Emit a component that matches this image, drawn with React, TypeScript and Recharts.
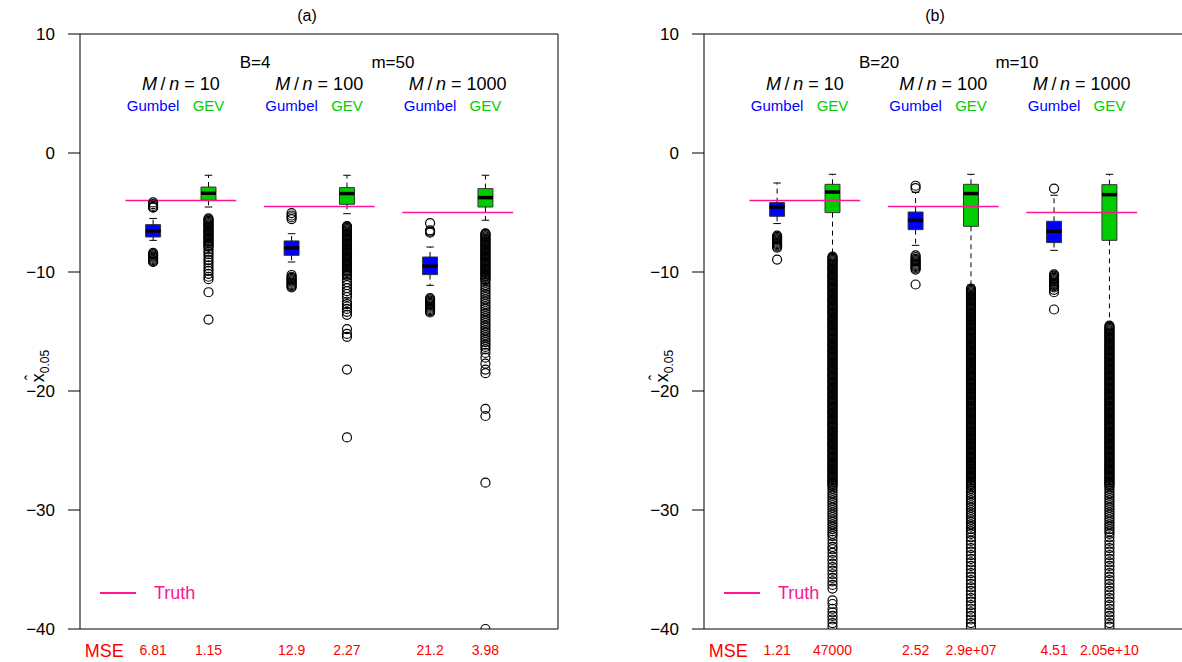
import React from "react";
import {
  ComposedChart,
  XAxis,
  YAxis,
  Scatter,
  ReferenceArea,
  ReferenceLine,
} from "recharts";

const FONT = "'Liberation Sans', Arial, Helvetica, sans-serif";

// box positions on the x scale, pairs of Gumbel / GEV for M/n = 10, 100, 1000
const POSITIONS = [1, 2, 3.5, 4.5, 6, 7];
const METHODS = ["Gumbel", "GEV", "Gumbel", "GEV", "Gumbel", "GEV"];
const GROUP_CENTERS = [1.5, 4, 6.5];
const RATIOS = ["10", "100", "1000"];
const TRUTH = [-4.0, -4.5, -5.0];
const Y_TICKS = [10, 0, -10, -20, -30, -40];
const MSE_POS = 0.12;

// ── panel (a): B=4, m=50 ──────────────────────────────────────────────
const A_LOW = [-7.34, -4.54, -9.16, -5.1, -11.12, -5.65];
const A_Q1 = [-7.06, -3.97, -8.6, -4.31, -10.22, -4.54];
const A_MED = [-6.55, -3.38, -7.98, -3.41, -9.5, -3.75];
const A_Q3 = [-6.02, -2.86, -7.39, -2.91, -8.74, -2.99];
const A_HIGH = [-5.5, -1.87, -6.78, -1.87, -7.9, -1.87];
const A_MSE = ["6.81", "1.15", "12.9", "2.27", "21.2", "3.98"];

const A_OUT_GUM10 = [-4.15, -4.3, -4.45, -4.55, -4.6, -8.4, -8.5, -8.6, -8.7, -8.8, -8.9, -9.0, -9.1, -9.15];
const A_OUT_GEV10 = [
  -5.5, -5.6, -5.7, -5.8, -5.9, -6.0, -6.1, -6.2, -6.3, -6.4,
  -6.5, -6.6, -6.7, -6.8, -6.9, -7.0, -7.1, -7.2, -7.3, -7.4,
  -7.5, -7.6, -7.7, -7.8, -7.9, -8.1, -8.3, -8.5, -8.75, -9.0,
  -9.2, -9.45, -9.7, -9.9, -10.15, -10.4, -10.6, -11.7, -14.0,
];
const A_OUT_GUM100 = [-5.05, -5.25, -5.4, -5.55, -10.25, -10.4, -10.5, -10.6, -10.7, -10.8, -10.9, -11.0, -11.1, -11.2, -11.3];
const A_OUT_GEV100 = [
  -6.15, -6.2, -6.3, -6.4, -6.5, -6.6, -6.7, -6.8, -6.9, -7.0,
  -7.1, -7.2, -7.3, -7.4, -7.5, -7.6, -7.7, -7.8, -7.9, -8.0,
  -8.1, -8.2, -8.3, -8.4, -8.5, -8.6, -8.7, -8.8, -8.9, -9.0,
  -9.1, -9.2, -9.3, -9.4, -9.5, -9.6, -9.7, -9.8, -9.9, -10.0,
  -10.1, -10.2, -10.3, -10.6, -10.85, -11.1, -11.35, -11.6, -11.85, -12.1,
  -12.5, -12.7, -12.9, -13.1, -13.35, -13.6, -14.8, -15.2, -15.45, -18.2, -23.9,
];
const A_OUT_GUM1000 = [-5.9, -6.5, -6.6, -6.7, -12.2, -12.3, -12.4, -12.5, -12.6, -12.7, -12.8, -12.9, -13.0, -13.1, -13.2, -13.3, -13.4];
const A_OUT_GEV1000 = [
  -6.75, -6.8, -6.9, -7.0, -7.1, -7.2, -7.3, -7.4, -7.5, -7.6,
  -7.7, -7.8, -7.9, -8.0, -8.1, -8.2, -8.3, -8.4, -8.5, -8.6,
  -8.7, -8.8, -8.9, -9.0, -9.1, -9.2, -9.3, -9.4, -9.5, -9.6,
  -9.7, -9.8, -9.9, -10.0, -10.1, -10.2, -10.3, -10.4, -10.5, -10.6,
  -10.7, -10.9, -11.1, -11.3, -11.5, -11.7, -11.9, -12.1, -12.3, -12.5,
  -12.7, -12.9, -13.1, -13.3, -13.5, -13.7, -13.9, -14.1, -14.3, -14.5,
  -14.7, -14.9, -15.1, -15.3, -15.5, -15.7, -15.9, -16.1, -16.3, -16.5,
  -16.8, -17.2, -17.7, -18.2, -18.5, -21.5, -22.1, -27.7, -40.0,
];

// ── panel (b): B=20, m=10 ─────────────────────────────────────────────
const B_LOW = [-5.93, -8.5, -7.76, -11.1, -8.18, -14.3];
const B_Q1 = [-5.32, -5.01, -6.44, -6.16, -7.53, -7.34];
const B_MED = [-4.54, -3.28, -5.66, -3.41, -6.58, -3.5];
const B_Q3 = [-4.17, -2.63, -4.96, -2.63, -5.74, -2.66];
const B_HIGH = [-2.52, -1.79, -3.3, -1.79, -3.55, -1.79];
const B_MSE = ["1.21", "47000", "2.52", "2.9e+07", "4.51", "2.05e+10"];

const B_OUT_GUM10 = [-6.95, -7.05, -7.15, -7.25, -7.35, -7.45, -7.55, -7.65, -7.75, -7.85, -7.95, -8.96];
const B_OUT_GEV10 = [
  -8.7, -8.8, -8.9, -9.0, -9.1, -9.2, -9.3, -9.4, -9.5, -9.6,
  -9.7, -9.8, -9.9, -10.0, -10.1, -10.2, -10.3, -10.4, -10.5, -10.6,
  -10.7, -10.8, -10.9, -11.0, -11.1, -11.2, -11.3, -11.4, -11.5, -11.6,
  -11.7, -11.8, -11.9, -12.0, -12.1, -12.2, -12.3, -12.4, -12.5, -12.6,
  -12.7, -12.8, -12.9, -13.0, -13.1, -13.2, -13.3, -13.4, -13.5, -13.6,
  -13.7, -13.8, -13.9, -14.0, -14.1, -14.2, -14.3, -14.4, -14.5, -14.6,
  -14.7, -14.8, -14.9, -15.0, -15.1, -15.2, -15.3, -15.4, -15.5, -15.6,
  -15.7, -15.8, -15.9, -16.0, -16.1, -16.2, -16.3, -16.4, -16.5, -16.6,
  -16.7, -16.8, -16.9, -17.0, -17.1, -17.2, -17.3, -17.4, -17.5, -17.6,
  -17.7, -17.8, -17.9, -18.0, -18.1, -18.2, -18.3, -18.4, -18.5, -18.6,
  -18.7, -18.8, -18.9, -19.0, -19.1, -19.2, -19.3, -19.4, -19.5, -19.6,
  -19.7, -19.8, -19.9, -20.0, -20.1, -20.2, -20.3, -20.4, -20.5, -20.6,
  -20.7, -20.8, -20.9, -21.0, -21.1, -21.2, -21.3, -21.4, -21.5, -21.6,
  -21.7, -21.8, -21.9, -22.0, -22.1, -22.2, -22.3, -22.4, -22.5, -22.6,
  -22.7, -22.8, -22.9, -23.0, -23.1, -23.2, -23.3, -23.4, -23.5, -23.6,
  -23.7, -23.8, -23.9, -24.0, -24.1, -24.2, -24.3, -24.4, -24.5, -24.6,
  -24.7, -24.8, -24.9, -25.0, -25.1, -25.2, -25.3, -25.4, -25.5, -25.6,
  -25.7, -25.8, -25.9, -26.0, -26.1, -26.2, -26.3, -26.4, -26.5, -26.6,
  -26.7, -26.8, -26.9, -27.0, -27.1, -27.2, -27.3, -27.4, -27.5, -27.6,
  -27.7, -27.8, -27.9, -28.0, -28.2, -28.4, -28.6, -28.8, -29.0, -29.2,
  -29.4, -29.6, -29.8, -30.0, -30.2, -30.4, -30.6, -30.8, -31.0, -31.2,
  -31.4, -31.6, -31.8, -32.0, -32.2, -32.5, -32.8, -33.1, -33.3, -33.6,
  -33.9, -34.2, -34.5, -34.8, -35.1, -35.4, -35.7, -36.0, -36.3, -36.6,
  -37.6, -37.9, -38.3, -38.6, -38.9, -39.2, -39.5, -39.8,
];
const B_OUT_GUM100 = [-2.75, -2.95, -8.6, -8.75, -8.9, -9.0, -9.1, -9.2, -9.3, -9.4, -9.5, -9.6, -9.7, -9.8, -11.05];
const B_OUT_GEV100 = [
  -11.4, -11.5, -11.6, -11.7, -11.8, -11.9, -12.0, -12.1, -12.2, -12.3,
  -12.4, -12.5, -12.6, -12.7, -12.8, -12.9, -13.0, -13.1, -13.2, -13.3,
  -13.4, -13.5, -13.6, -13.7, -13.8, -13.9, -14.0, -14.1, -14.2, -14.3,
  -14.4, -14.5, -14.6, -14.7, -14.8, -14.9, -15.0, -15.1, -15.2, -15.3,
  -15.4, -15.5, -15.6, -15.7, -15.8, -15.9, -16.0, -16.1, -16.2, -16.3,
  -16.4, -16.5, -16.6, -16.7, -16.8, -16.9, -17.0, -17.1, -17.2, -17.3,
  -17.4, -17.5, -17.6, -17.7, -17.8, -17.9, -18.0, -18.1, -18.2, -18.3,
  -18.4, -18.5, -18.6, -18.7, -18.8, -18.9, -19.0, -19.1, -19.2, -19.3,
  -19.4, -19.5, -19.6, -19.7, -19.8, -19.9, -20.0, -20.1, -20.2, -20.3,
  -20.4, -20.5, -20.6, -20.7, -20.8, -20.9, -21.0, -21.1, -21.2, -21.3,
  -21.4, -21.5, -21.6, -21.7, -21.8, -21.9, -22.0, -22.1, -22.2, -22.3,
  -22.4, -22.5, -22.6, -22.7, -22.8, -22.9, -23.0, -23.1, -23.2, -23.3,
  -23.4, -23.5, -23.6, -23.7, -23.8, -23.9, -24.0, -24.1, -24.2, -24.3,
  -24.4, -24.5, -24.6, -24.7, -24.8, -24.9, -25.0, -25.1, -25.2, -25.3,
  -25.4, -25.5, -25.6, -25.7, -25.8, -25.9, -26.0, -26.1, -26.2, -26.3,
  -26.4, -26.5, -26.6, -26.7, -26.8, -26.9, -27.0, -27.1, -27.2, -27.3,
  -27.4, -27.5, -27.6, -27.7, -27.8, -27.9, -28.0, -28.2, -28.4, -28.6,
  -28.8, -29.0, -29.2, -29.4, -29.6, -29.8, -30.0, -30.2, -30.4, -30.6,
  -30.8, -31.0, -31.2, -31.4, -31.6, -31.8, -32.0, -32.3, -32.6, -32.9,
  -33.2, -33.5, -33.8, -34.1, -34.4, -34.7, -35.0, -35.3, -35.6, -35.9,
  -36.2, -36.5, -36.8, -37.1, -37.4, -37.7, -38.0, -38.3, -38.6, -38.9,
  -39.2, -39.5, -39.8,
];
const B_OUT_GUM1000 = [-2.99, -10.2, -10.3, -10.4, -10.5, -10.6, -10.7, -10.8, -10.9, -11.0, -11.1, -11.2, -11.3, -11.5, -11.7, -13.15];
const B_OUT_GEV1000 = [
  -14.5, -14.6, -14.7, -14.8, -14.9, -15.0, -15.1, -15.2, -15.3, -15.4,
  -15.5, -15.6, -15.7, -15.8, -15.9, -16.0, -16.1, -16.2, -16.3, -16.4,
  -16.5, -16.6, -16.7, -16.8, -16.9, -17.0, -17.1, -17.2, -17.3, -17.4,
  -17.5, -17.6, -17.7, -17.8, -17.9, -18.0, -18.1, -18.2, -18.3, -18.4,
  -18.5, -18.6, -18.7, -18.8, -18.9, -19.0, -19.1, -19.2, -19.3, -19.4,
  -19.5, -19.6, -19.7, -19.8, -19.9, -20.0, -20.1, -20.2, -20.3, -20.4,
  -20.5, -20.6, -20.7, -20.8, -20.9, -21.0, -21.1, -21.2, -21.3, -21.4,
  -21.5, -21.6, -21.7, -21.8, -21.9, -22.0, -22.1, -22.2, -22.3, -22.4,
  -22.5, -22.6, -22.7, -22.8, -22.9, -23.0, -23.1, -23.2, -23.3, -23.4,
  -23.5, -23.6, -23.7, -23.8, -23.9, -24.0, -24.1, -24.2, -24.3, -24.4,
  -24.5, -24.6, -24.7, -24.8, -24.9, -25.0, -25.1, -25.2, -25.3, -25.4,
  -25.5, -25.6, -25.7, -25.8, -25.9, -26.0, -26.1, -26.2, -26.3, -26.4,
  -26.5, -26.6, -26.7, -26.8, -26.9, -27.0, -27.1, -27.2, -27.3, -27.4,
  -27.5, -27.6, -27.7, -27.8, -27.9, -28.0, -28.2, -28.4, -28.6, -28.8,
  -29.0, -29.2, -29.4, -29.6, -29.8, -30.0, -30.2, -30.4, -30.6, -30.8,
  -31.0, -31.2, -31.4, -31.6, -31.8, -32.0, -32.3, -32.6, -32.9, -33.2,
  -33.5, -33.8, -34.1, -34.4, -34.7, -35.0, -35.3, -35.6, -35.9, -36.2,
  -36.5, -36.8, -37.1, -37.4, -37.7, -38.0, -38.3, -38.6, -38.9, -39.2,
  -39.5, -39.8,
];

const A_OUTLIERS = [A_OUT_GUM10, A_OUT_GEV10, A_OUT_GUM100, A_OUT_GEV100, A_OUT_GUM1000, A_OUT_GEV1000];
const B_OUTLIERS = [B_OUT_GUM10, B_OUT_GEV10, B_OUT_GUM100, B_OUT_GEV100, B_OUT_GUM1000, B_OUT_GEV1000];

// layout
const X_MIN = -0.32;
const X_MAX = 8.31;
const PANEL_W = 591;
const H = 662;
const TOP = 34;
const PLOT_W = 478;
const BOX_HALF = 0.135;
const CAP_HALF = 0.068;

const BLUE = "#0000FF";
const GREEN = "#00CD00";
const PINK = "#FF1493";
const RED = "#FF0000";

const fmtY = (v: number) => (v < 0 ? `\u2212${Math.abs(v)}` : `${v}`);

interface PanelProps {
  title: string;
  bLabel: string;
  mLabel: string;
  low: number[];
  q1: number[];
  med: number[];
  q3: number[];
  high: number[];
  mse: string[];
  outliers: number[][];
  yAxisWidth: number;
  rightMargin: number;
  rightFrame: boolean;
  titleX: number;
}

const Circle = (p: any) => <circle cx={p.cx} cy={p.cy} r={4.5} fill="none" stroke="#000" strokeWidth={1.2} />;

const Panel: React.FC<PanelProps> = (props) => {
  const { low, q1, med, q3, high, mse, outliers, yAxisWidth, rightMargin } = props;
  const px = (x: number) => yAxisWidth + ((x - X_MIN) / (X_MAX - X_MIN)) * PLOT_W;

  const renderTick = (p: any) => {
    const v = p.payload.value;
    if (Math.abs(v - MSE_POS) < 1e-6) {
      return (
        <text x={p.x} y={p.y + 20} textAnchor="middle" fill={RED} fontSize={18} fontFamily={FONT}>MSE</text>
      );
    }
    const i = POSITIONS.indexOf(v);
    return (
      <text x={p.x} y={p.y + 18} textAnchor="middle" fill={RED} fontSize={14} fontFamily={FONT}>{mse[i]}</text>
    );
  };

  const txt = (x: number, y: number, size: number, color = "#000"): React.CSSProperties => ({
    position: "absolute", left: x, top: y, transform: "translate(-50%, -50%)", whiteSpace: "nowrap",
    fontSize: size, color, fontFamily: FONT, lineHeight: 1,
  });

  return (
    <div style={{ position: "relative", width: PANEL_W, height: H }}>
      <ComposedChart width={PANEL_W} height={H} margin={{ top: TOP, right: rightMargin, bottom: 0, left: 0 }}>
        <XAxis
          type="number"
          dataKey="x"
          domain={[X_MIN, X_MAX]}
          ticks={[MSE_POS, ...POSITIONS]}
          interval={0}
          tick={renderTick}
          tickLine={false}
          axisLine={{ stroke: "#000" }}
          height={33}
          allowDataOverflow
        />
        <YAxis
          type="number"
          dataKey="y"
          domain={[-40, 10]}
          ticks={Y_TICKS}
          interval={0}
          width={yAxisWidth}
          tickSize={12}
          tickMargin={13}
          tickFormatter={fmtY}
          tick={{ fill: "#000", fontSize: 17, fontFamily: FONT }}
          axisLine={{ stroke: "#000" }}
          tickLine={{ stroke: "#000" }}
          allowDataOverflow
        />
        <ReferenceLine y={10} stroke="#000" ifOverflow="visible" />
        {props.rightFrame && <ReferenceLine x={X_MAX} stroke="#000" ifOverflow="visible" />}

        {POSITIONS.map((x, i) => (
          <ReferenceLine key={`wu${i}`} segment={[{ x, y: q3[i] }, { x, y: high[i] }]} stroke="#000" strokeDasharray="5 4" ifOverflow="visible" />
        ))}
        {POSITIONS.map((x, i) => (
          <ReferenceLine key={`wl${i}`} segment={[{ x, y: q1[i] }, { x, y: low[i] }]} stroke="#000" strokeDasharray="5 4" ifOverflow="visible" />
        ))}
        {POSITIONS.map((x, i) => (
          <ReferenceLine key={`cu${i}`} segment={[{ x: x - CAP_HALF, y: high[i] }, { x: x + CAP_HALF, y: high[i] }]} stroke="#000" ifOverflow="visible" />
        ))}
        {POSITIONS.map((x, i) => (
          <ReferenceLine key={`cl${i}`} segment={[{ x: x - CAP_HALF, y: low[i] }, { x: x + CAP_HALF, y: low[i] }]} stroke="#000" ifOverflow="visible" />
        ))}
        {POSITIONS.map((x, i) => (
          <ReferenceArea
            key={`bx${i}`}
            x1={x - BOX_HALF}
            x2={x + BOX_HALF}
            y1={q1[i]}
            y2={q3[i]}
            fill={i % 2 === 0 ? BLUE : GREEN}
            fillOpacity={1}
            stroke="#333"
            strokeWidth={1}
            strokeOpacity={1}
            ifOverflow="visible"
          />
        ))}
        {POSITIONS.map((x, i) => (
          <ReferenceLine key={`md${i}`} segment={[{ x: x - BOX_HALF, y: med[i] }, { x: x + BOX_HALF, y: med[i] }]} stroke="#000" strokeWidth={3.5} ifOverflow="visible" />
        ))}
        {GROUP_CENTERS.map((c, g) => (
          <ReferenceLine key={`tr${g}`} segment={[{ x: c - 1, y: TRUTH[g] }, { x: c + 1, y: TRUTH[g] }]} stroke={PINK} strokeWidth={1.5} ifOverflow="visible" />
        ))}
        {POSITIONS.map((x, i) => (
          <Scatter
            key={`o${i}`}
            data={outliers[i].map((v) => ({ x, y: v }))}
            shape={Circle}
            isAnimationActive={false}
          />
        ))}
      </ComposedChart>

      <div style={txt(props.titleX, 16, 16)}>{props.title}</div>
      <div style={txt(px(2.84), 62, 17)}>{props.bLabel}</div>
      <div style={txt(px(5.33), 62, 17)}>{props.mLabel}</div>
      {GROUP_CENTERS.map((c, g) => (
        <div key={`r${g}`} style={txt(px(c), 84, 18)}>
          <i>M</i>{"\u2009/\u2009"}<i>n</i> = {RATIOS[g]}
        </div>
      ))}
      {POSITIONS.map((x, i) => (
        <div key={`m${i}`} style={txt(px(x), 105, 15, i % 2 === 0 ? BLUE : GREEN)}>{METHODS[i]}</div>
      ))}

      {/* legend */}
      <div style={{ position: "absolute", left: px(0.04), top: 592, width: 36, height: 1.5, background: PINK }} />
      <div style={{ ...txt(px(0.04) + 54, 593, 18, PINK), transform: "translate(0, -50%)" }}>Truth</div>

      {/* y label: x-hat with subscript 0.05 */}
      <div style={{ ...txt(yAxisWidth - 40, 366, 18), transform: "translate(-50%, -50%) rotate(-90deg)" }}>
        <span style={{ position: "relative", display: "inline-block" }}>
          x
          <span style={{ position: "absolute", left: 2, top: -5, fontSize: 16 }}>{"\u02C6"}</span>
        </span>
        <sub style={{ fontSize: 12 }}>0.05</sub>
      </div>
    </div>
  );
};

export default function App() {
  return (
    <div style={{ display: "flex", width: 1182, height: H, background: "#fff", overflow: "hidden" }}>
      <style>{`body { margin: 0; }`}</style>
      <Panel
        title="(a)"
        bLabel="B=4"
        mLabel="m=50"
        low={A_LOW}
        q1={A_Q1}
        med={A_MED}
        q3={A_Q3}
        high={A_HIGH}
        mse={A_MSE}
        outliers={A_OUTLIERS}
        yAxisWidth={80}
        rightMargin={33}
        rightFrame={true}
        titleX={307}
      />
      <Panel
        title="(b)"
        bLabel="B=20"
        mLabel="m=10"
        low={B_LOW}
        q1={B_Q1}
        med={B_MED}
        q3={B_Q3}
        high={B_HIGH}
        mse={B_MSE}
        outliers={B_OUTLIERS}
        yAxisWidth={113}
        rightMargin={0}
        rightFrame={false}
        titleX={344}
      />
    </div>
  );
}
